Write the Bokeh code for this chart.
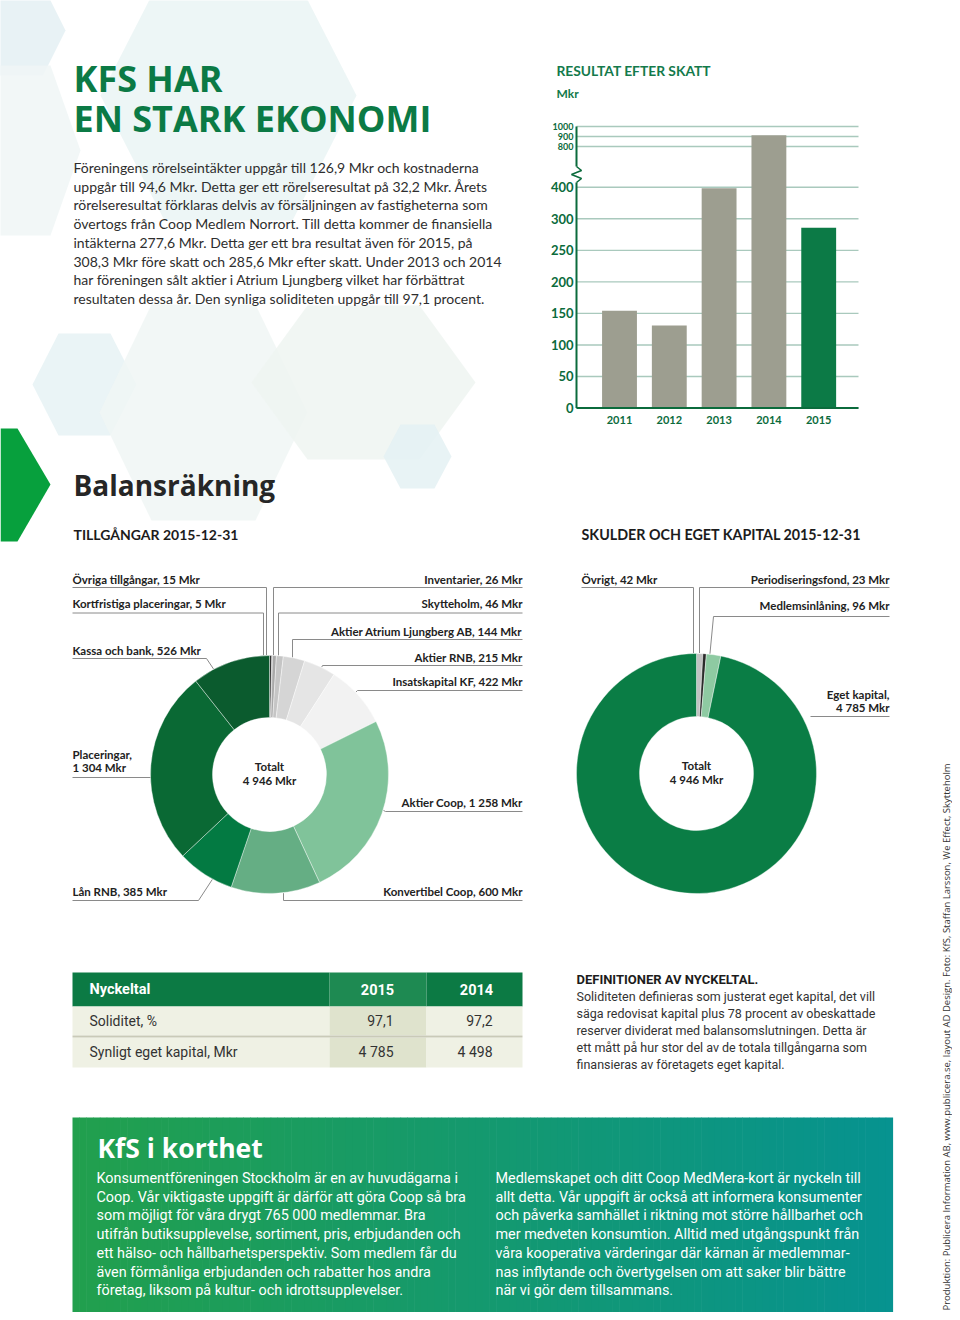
import math
import numpy as np
from bokeh.plotting import figure
from bokeh.models import Range1d
from bokeh.core.properties import value
from bokeh.embed import file_html
from bokeh.resources import INLINE

# ---------------- DATA ----------------
years = [2011, 2012, 2013, 2014, 2015]
result_mkr = [154, 131, 397, 913, 285.6]
y_tick_values = [0, 50, 100, 150, 200, 250, 300, 400, 800, 900, 1000]

asset_names = ["Övriga tillgångar", "Kortfristiga placeringar", "Inventarier", "Skytteholm",
               "Aktier Atrium Ljungberg AB", "Aktier RNB", "Insatskapital KF", "Aktier Coop",
               "Konvertibel Coop", "Lån RNB", "Placeringar", "Kassa och bank"]
asset_values = [15, 5, 26, 46, 144, 215, 422, 1258, 600, 385, 1304, 526]

liab_names = ["Övrigt", "Periodiseringsfond", "Medlemsinlåning", "Eget kapital"]
liab_values = [42, 23, 96, 4785]

kpi_names = ["Soliditet, %", "Synligt eget kapital, Mkr"]
kpi_2015 = ["97,1", "4 785"]
kpi_2014 = ["97,2", "4 498"]

# ---------------- STYLE / LAYOUT ----------------
W, H = 952, 1312
X0, Y0 = 0, 0
GREEN = "#0b7a45"
DKGREEN = "#0b6b3c"
BODY = "Lato"
HEAD = "Open Sans"

p = figure(width=W, height=H, x_range=Range1d(X0, X0 + W), y_range=Range1d(Y0 + H, Y0),
           output_backend="svg", toolbar_location=None, min_border=0,
           x_axis_type=None, y_axis_type=None)
p.outline_line_color = None
p.background_fill_color = "white"
p.border_fill_color = "white"


def txt(x, y, s, size, color="#333333", font=BODY, style="normal", align="left",
        baseline="middle", angle=0.0, **kw):
    xs = x if isinstance(x, list) else [x]
    ys = y if isinstance(y, list) else [y]
    ss = s if isinstance(s, list) else [s]
    p.text(x=xs, y=ys, text=ss, text_font=value(font), text_font_size=f"{size}px",
           text_color=color, text_font_style=style, text_align=align,
           text_baseline=baseline, angle=angle, **kw)


def fmt(v):
    return f"{v:,.0f}".replace(",", " ")


# ---------------- background hexagons ----------------
def hexagon(cx, cy, rx, ry):
    return ([cx - rx, cx - rx / 2, cx + rx / 2, cx + rx, cx + rx / 2, cx - rx / 2],
            [cy, cy - ry, cy - ry, cy, cy + ry, cy + ry])

hexes = [
    (20, 30, 45, 45, "#e4f0f3"),
    (20, 150, 60, 85, "#f0f6f6"),
    (228, 95, 128, 125, "#eaf4f5"),
    (84, 384, 52, 51, "#e6f2f5"),
    (203, 412, 104, 108, "#f0f6f4"),
    (363, 382, 112, 77, "#eef4f1"),
    (417, 456, 34, 32, "#e4f1f3"),
]
for cx, cy, rx, ry, c in hexes:
    hx, hy = hexagon(cx, cy, rx, ry)
    p.patch(hx, hy, fill_color=c, fill_alpha=0.85, line_color=None)

# green arrow on left edge
p.patch([0, 17, 50, 17, 0], [428, 428, 484, 541, 541], fill_color="#07a03d", line_color=None)

# ---------------- Title + intro ----------------
txt(73, 78, "KFS HAR", 36, color=GREEN, font=HEAD, style="bold")
txt(73, 118, "EN STARK EKONOMI", 36, color=GREEN, font=HEAD, style="bold")

intro = [
    "Föreningens rörelseintäkter uppgår till 126,9 Mkr och kostnaderna",
    "uppgår till 94,6 Mkr. Detta ger ett rörelseresultat på 32,2 Mkr. Årets",
    "rörelseresultat förklaras delvis av försäljningen av fastigheterna som",
    "övertogs från Coop Medlem Norrort. Till detta kommer de finansiella",
    "intäkterna 277,6 Mkr. Detta ger ett bra resultat även för 2015, på",
    "308,3 Mkr före skatt och 285,6 Mkr efter skatt. Under 2013 och 2014",
    "har föreningen sålt aktier i Atrium Ljungberg vilket har förbättrat",
    "resultaten dessa år. Den synliga soliditeten uppgår till 97,1 procent.",
]
txt([73] * len(intro), [167 + 18.7 * i for i in range(len(intro))], intro, 14, color="#2e2e2e")

# ---------------- Bar chart (broken axis) ----------------
txt(556, 70, "RESULTAT EFTER SKATT", 13.8, color="#137a4b", style="bold")
txt(556, 93, "Mkr", 12, color="#137a4b", style="bold")

# piecewise scale with a break between 400 and 800
scale_vals = [0, 300, 400, 800, 1000]
scale_pos = [0, 300, 350, 414.6, 446.3]
def u(v):
    return float(np.interp(v, scale_vals, scale_pos))

BAR_Y0, BAR_K = 407.5, 0.6307     # page px of 0, px per scale unit
BAR_X0, BAR_DX = 619, 49.8        # page px of first year, px per year
p.extra_y_ranges = {"res": Range1d(start=(BAR_Y0 - (Y0 + H)) / BAR_K, end=(BAR_Y0 - Y0) / BAR_K)}
p.extra_x_ranges = {"yr": Range1d(start=years[0] + (X0 - BAR_X0) / BAR_DX,
                                  end=years[0] + (X0 + W - BAR_X0) / BAR_DX)}
def px_to_year(px):
    return years[0] + (px - BAR_X0) / BAR_DX
def py_to_u(py):
    return (BAR_Y0 - py) / BAR_K

gx0, gx1 = px_to_year(576), px_to_year(858)
tick_u = [u(v) for v in y_tick_values]
p.segment(x0=[gx0] * len(tick_u), x1=[gx1] * len(tick_u), y0=tick_u, y1=tick_u,
          line_color="#a9c9bd", line_width=1.4, x_range_name="yr", y_range_name="res")

bar_colors = ["#9d9e90"] * (len(years) - 1) + ["#0c7a46"]
p.vbar(x=years, top=[u(v) for v in result_mkr], bottom=0, width=0.7, fill_color=bar_colors,
       line_color=None, x_range_name="yr", y_range_name="res")

# axes
p.segment(x0=[gx0], x1=[gx1], y0=[0], y1=[0], line_color=DKGREEN, line_width=2.2,
          x_range_name="yr", y_range_name="res")
p.segment(x0=[gx0, gx0], x1=[gx0, gx0], y0=[u(1000), py_to_u(182)], y1=[py_to_u(166), 0],
          line_color=DKGREEN, line_width=2, x_range_name="yr", y_range_name="res")
zz_x = [576, 581, 571, 581, 576]
zz_y = [166, 170, 174, 178, 182]
p.line([px_to_year(v) for v in zz_x], [py_to_u(v) for v in zz_y], line_color=DKGREEN,
       line_width=1.6, x_range_name="yr", y_range_name="res")

big = [v for v in y_tick_values if v <= 400]
small = [v for v in y_tick_values if v > 400]
p.text(x=[px_to_year(573)] * len(big), y=[u(v) for v in big], text=[str(v) for v in big],
       text_font=value(BODY), text_font_size="13px", text_color=DKGREEN, text_font_style="bold",
       text_align="right", text_baseline="middle", x_range_name="yr", y_range_name="res")
p.text(x=[px_to_year(573)] * len(small), y=[u(v) for v in small], text=[str(v) for v in small],
       text_font=value(BODY), text_font_size="9px", text_color=DKGREEN, text_font_style="bold",
       text_align="right", text_baseline="middle", x_range_name="yr", y_range_name="res")
p.text(x=years, y=[py_to_u(419)] * len(years), text=[str(y) for y in years],
       text_font=value(BODY), text_font_size="11px", text_color=DKGREEN, text_font_style="bold",
       text_align="center", text_baseline="middle", x_range_name="yr", y_range_name="res")

# ---------------- Balansräkning ----------------
txt(73, 484, "Balansräkning", 28, color="#262626", font=HEAD, style="bold")
txt(73, 534, "TILLGÅNGAR 2015-12-31", 14, color="#1c1c1c", font=BODY, style="bold")
txt(581, 534, "SKULDER OCH  EGET KAPITAL 2015-12-31", 14.3, color="#1c1c1c", font=BODY,
    style="bold")


def donut(cx, cy, R, r, values, colors):
    total = float(sum(values))
    cum = np.concatenate([[0], np.cumsum(values)]) / total
    starts = [math.pi / 2 - 2 * math.pi * c for c in cum[:-1]]
    ends = [math.pi / 2 - 2 * math.pi * c for c in cum[1:]]
    p.annular_wedge(x=[cx] * len(values), y=[cy] * len(values), inner_radius=r, outer_radius=R,
                    start_angle=starts, end_angle=ends, direction="clock",
                    fill_color=colors, line_color="white", line_width=0.4)
    return cum


def ring_point(cx, cy, R, c0, c1, f):
    a = 2 * math.pi * (c0 + f * (c1 - c0))  # clockwise from top
    return cx + R * math.sin(a), cy - R * math.cos(a)


def labels(cx, cy, R, cum, names, values, layout, xl, xr):
    for i, (side, ty, uy, elbow, mode, f) in enumerate(layout):
        name = names[i]
        v = values[i]
        if isinstance(ty, tuple):
            lines = [name + ",", f"{fmt(v)} Mkr"]
            tys = list(ty)
        else:
            lines = [f"{name}, {fmt(v)} Mkr"]
            tys = [ty]
        tx = xl if side == "L" else xr
        al = "left" if side == "L" else "right"
        txt([tx] * len(lines), tys, lines, 11.5, color="#222222", style="bold", align=al)
        xs = [xl, elbow] if side == "L" else [xr, elbow]
        ys = [uy, uy]
        if mode == "vertical":
            dy = math.sqrt(max(R * R - (elbow - cx) ** 2, 0))
            ys.append(cy - dy if uy < cy else cy + dy)
            xs.append(elbow)
        elif mode == "angle":
            px_, py_ = ring_point(cx, cy, R, cum[i], cum[i + 1], f)
            xs.append(px_)
            ys.append(py_)
        p.line(xs, ys, line_color="#8a8a8a", line_width=1)


# left donut (assets)
LCX, LCY, LR, Lr = 269, 774, 119, 57
asset_colors = ["#333333", "#7a7a7a", "#a9a9a9", "#c5c5c5", "#d5d5d5", "#e5e5e5", "#f2f2f2",
                "#80c39a", "#65ae84", "#037a42", "#0a6934", "#0b5b2e"]
acum = donut(LCX, LCY, LR, Lr, asset_values, asset_colors)
asset_layout = [
    ("L", 579, 587, 266, "vertical", 0.5),
    ("L", 603, 612.5, 263, "vertical", 0.5),
    ("R", 579, 587, 273, "vertical", 0.5),
    ("R", 603, 612.5, 278, "vertical", 0.5),
    ("R", 631, 639, 292, "vertical", 0.5),
    ("R", 657, 665, 322, "angle", 0.56),
    ("R", 681, 690, 357, "angle", 0.44),
    ("R", 802, 811, 385, "angle", 0.48),
    ("R", 891, 900, 283, "vertical", 0.5),
    ("L", 891, 900, 198, "angle", 0.35),
    ("L", (754, 767), 777, 150, "none", 0.5),
    ("L", 650, 658, 206, "angle", 0.27),
]
labels(LCX, LCY, LR + 0.5, acum, asset_names, asset_values, asset_layout, 72, 522)
txt([LCX, LCX], [766, 780], ["Totalt", f"{fmt(sum(asset_values))} Mkr"], 11.5,
    color="#222222", style="bold", align="center")

# right donut (liabilities + equity)
RCX, RCY, RR, Rr = 696, 773, 120, 57
liab_colors = ["#c2c2c2", "#2a2a2a", "#8ecaa2", "#0a7d45"]
lcum = donut(RCX, RCY, RR, Rr, liab_values, liab_colors)
liab_layout = [
    ("L", 579, 587, 693, "vertical", 0.5),
    ("R", 579, 587, 699, "vertical", 0.5),
    ("R", 605, 616, 713, "angle", 0.24),
    ("R", (694, 707), 716, 810, "none", 0.5),
]
labels(RCX, RCY, RR + 0.5, lcum, liab_names, liab_values, liab_layout, 581, 889)
txt([RCX, RCX], [765, 779], ["Totalt", f"{fmt(sum(liab_values))} Mkr"], 11.5,
    color="#222222", style="bold", align="center")

# ---------------- Nyckeltal table ----------------
TX0, TX1, TC0, TC1 = 72, 522, 329, 426
p.quad(left=[TX0, TC0, TC1], right=[TC0, TC1, TX1], top=[972] * 3, bottom=[1006] * 3,
       fill_color=["#0c7a44", "#1e8a52", "#0c7a44"], line_color=None)
row_top = [1006, 1037]
row_bot = [1035, 1067]
for t, b in zip(row_top, row_bot):
    p.quad(left=[TX0, TC0, TC1], right=[TC0, TC1, TX1], top=[t] * 3, bottom=[b] * 3,
           fill_color=["#eff1e4", "#dfe3cd", "#eff1e4"], line_color=None)
p.segment(x0=[TX0], x1=[TX1], y0=[1036], y1=[1036], line_color="#c9cab8", line_width=2)
txt(89, 989, "Nyckeltal", 14.5, color="white", font="Roboto", style="bold")
txt([377, 476], [989, 989], ["2015", "2014"], 14.5, color="white", font="Roboto", style="bold",
    align="center")
row_y = [1020, 1051]
txt([89] * 2, row_y, kpi_names, 14, color="#333333", font="Roboto")
txt([393] * 2, row_y, kpi_2015, 14, color="#333333", font="Roboto", align="right")
txt([492] * 2, row_y, kpi_2014, 14, color="#333333", font="Roboto", align="right")

# definitions
txt(576, 979, "DEFINITIONER AV NYCKELTAL.", 13, color="#1c1c1c", font="Roboto", style="bold")
defs = [
    "Soliditeten definieras som justerat eget kapital, det vill",
    "säga redovisat kapital plus 78 procent av obeskattade",
    "reserver dividerat med balansomslutningen. Detta är",
    "ett mått på hur stor del av de totala tillgångarna som",
    "finansieras av företagets eget kapital.",
]
txt([576] * len(defs), [996 + 17 * i for i in range(len(defs))], defs, 12.5, color="#333333",
    font="Roboto")

# ---------------- KfS i korthet box ----------------
BX0, BX1, BY0, BY1 = 72, 892, 1117, 1316
n = 120
c0 = np.array([0x22, 0xa0, 0x4e])
c1 = np.array([0x07, 0x93, 0x90])
edges = np.linspace(BX0, BX1, n + 1)
cols = []
for i in range(n):
    t = i / (n - 1)
    c = (c0 * (1 - t) + c1 * t).astype(int)
    cols.append("#%02x%02x%02x" % tuple(c))
p.quad(left=edges[:-1], right=edges[1:] + 0.6, top=[BY0] * n, bottom=[BY1] * n,
       fill_color=cols, line_color=None)

txt(97, 1147, "KfS i korthet", 26.5, color="white", font=HEAD, style="bold")
left_col = [
    "Konsumentföreningen Stockholm är en av huvudägarna i",
    "Coop. Vår viktigaste uppgift är därför att göra Coop så bra",
    "som möjligt för våra drygt 765 000 medlemmar. Bra",
    "utifrån butiksupplevelse, sortiment, pris, erbjudanden och",
    "ett hälso- och hållbarhetsperspektiv. Som medlem får du",
    "även förmånliga erbjudanden och rabatter hos andra",
    "företag, liksom på kultur- och idrottsupplevelser.",
]
right_col = [
    "Medlemskapet och ditt Coop MedMera-kort är nyckeln till",
    "allt detta. Vår uppgift är också att informera konsumenter",
    "och påverka samhället i riktning mot större hållbarhet och",
    "mer medveten konsumtion. Alltid med utgångspunkt från",
    "våra kooperativa värderingar där kärnan är medlemmar-",
    "nas inflytande och övertygelsen om att saker blir bättre",
    "när vi gör dem tillsammans.",
]
ly = [1178 + 18.7 * i for i in range(7)]
txt([96] * 7, ly, left_col, 14.4, color="white", font="Roboto")
txt([495] * 7, ly, right_col, 14.4, color="white", font="Roboto")

# credit line (vertical)
txt(946, 1310, "Produktion: Publicera Information AB, www.publicera.se, layout AD Design. "
    "Foto: KfS, Staffan Larsson, We Effect, Skytteholm", 9.5, color="#333333", font="Open Sans",
    angle=math.pi / 2)

open("out.html", "w").write(file_html(p, INLINE))
